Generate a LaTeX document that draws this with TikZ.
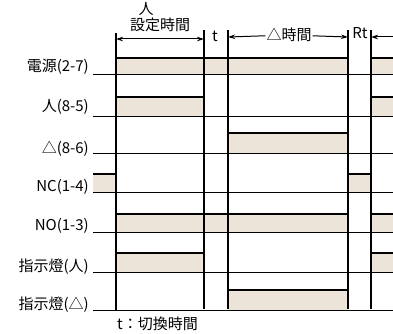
\documentclass[tikz,border=0pt]{standalone}
\usepackage{fontspec}
\setmainfont{Noto Sans CJK JP}
\usepackage{tikz}
\usetikzlibrary{arrows.meta, positioning}
\definecolor{pulsefill}{RGB}{237,228,217}
\tikzstyle{sigName} = [anchor=base east, inner sep=0pt, font=\fontsize{15}{17}\selectfont]
\tikzstyle{headText} = [inner sep=1pt, font=\fontsize{15}{17}\selectfont]
\tikzstyle{baseLine} = [line width=1pt]
\tikzstyle{highLine} = [line width=2.4pt]
\tikzstyle{edgeLine} = [line width=1.4pt]
\tikzstyle{pulse} = [fill=pulsefill]
\tikzstyle{arrow} = [line width=1pt, -{Stealth[length=7pt,width=4.5pt]}]
\tikzstyle{twoArrow} = [line width=1pt, {Stealth[length=7pt,width=4.5pt]}-{Stealth[length=7pt,width=4.5pt]}]

\begin{document}
\begin{tikzpicture}[x=1pt, y=-1pt]
                    \useasboundingbox (0,0) rectangle (393,334);
                    % pulses
                    \fill [pulse] (116,58) rectangle (348,75);
                    \fill [pulse] (371,58) rectangle (393,75);
                    \fill [pulse] (116,97) rectangle (204,116);
                    \fill [pulse] (371,97) rectangle (393,116);
                    \fill [pulse] (228,133) rectangle (348,153);
                    \fill [pulse] (93,174) rectangle (116,192);
                    \fill [pulse] (348,174) rectangle (371,192);
                    \fill [pulse] (116,214) rectangle (348,232);
                    \fill [pulse] (371,214) rectangle (393,232);
                    \fill [pulse] (116,253) rectangle (204,272);
                    \fill [pulse] (371,253) rectangle (393,272);
                    \fill [pulse] (228,290) rectangle (348,310);
                    \draw [highLine] (116,58) -- (348,58);
                    \draw [highLine] (371,58) -- (393,58);
                    \draw [highLine] (116,97) -- (204,97);
                    \draw [highLine] (371,97) -- (393,97);
                    \draw [highLine] (228,133) -- (348,133);
                    \draw [highLine] (93,174) -- (116,174);
                    \draw [highLine] (348,174) -- (371,174);
                    \draw [highLine] (116,214) -- (348,214);
                    \draw [highLine] (371,214) -- (393,214);
                    \draw [highLine] (116,253) -- (204,253);
                    \draw [highLine] (371,253) -- (393,253);
                    \draw [highLine] (228,290) -- (348,290);
                    % base lines
                    \draw [baseLine] (93,75) -- (393,75);
                    \draw [baseLine] (93,116) -- (393,116);
                    \draw [baseLine] (93,153) -- (393,153);
                    \draw [baseLine] (93,192) -- (393,192);
                    \draw [baseLine] (93,232) -- (393,232);
                    \draw [baseLine] (93,272) -- (393,272);
                    \draw [baseLine] (93,310) -- (393,310);
                    % switching instants
                    \coordinate (s0) at (116,33);
                    \coordinate (s1) at (204,30);
                    \coordinate (s2) at (228,30);
                    \coordinate (s3) at (348,30);
                    \coordinate (s4) at (371,30);
                    \draw [edgeLine] (s0) -- (116,311);
                    \draw [edgeLine] (s1) -- (204,309);
                    \draw [edgeLine] (s2) -- (228,309);
                    \draw [edgeLine] (s3) -- (348,309);
                    \draw [edgeLine] (s4) -- (371,309);
                    % signal names
                    \node (v27) [sigName] at (89,72) {電源(2-7)};
                    \node (y85) [sigName] at (89,112) {人(8-5)};
                    \node (d86) [sigName] at (89,153) {△(8-6)};
                    \node (nc14) [sigName] at (89,191) {NC(1-4)};
                    \node (no13) [sigName] at (89,230) {NO(1-3)};
                    \node (lampY) [sigName] at (89,271) {指示燈(人)};
                    \node (lampD) [sigName] at (89,309) {指示燈(△)};
                    % time spans
                    \coordinate (a0) at (116,39);
                    \coordinate (a1) at (204,39);
                    \coordinate (a2) at (228,37);
                    \coordinate (a3) at (348,37);
                    \coordinate (a4) at (371,37);
                    \coordinate (a5) at (393,37);
                    \node (star) [headText] at (146,9) {人};
                    \node (setT) [headText] at (160,25) {設定時間};
                    \node (tSw) [headText] at (215,36) {t};
                    \node (deltaT) [headText] at (289,35) {△時間};
                    \node (rt) [headText] at (360,33) {Rt};
                    \draw [twoArrow] (a0) -- (a1);
                    \draw [arrow] (deltaT) -- (a2);
                    \draw [arrow] (deltaT) -- (a3);
                    \draw [arrow] (a5) -- (a4);
                    \node (note) [headText, anchor=west] at (116,324) {t：切換時間};
                \end{tikzpicture}
\end{document}
